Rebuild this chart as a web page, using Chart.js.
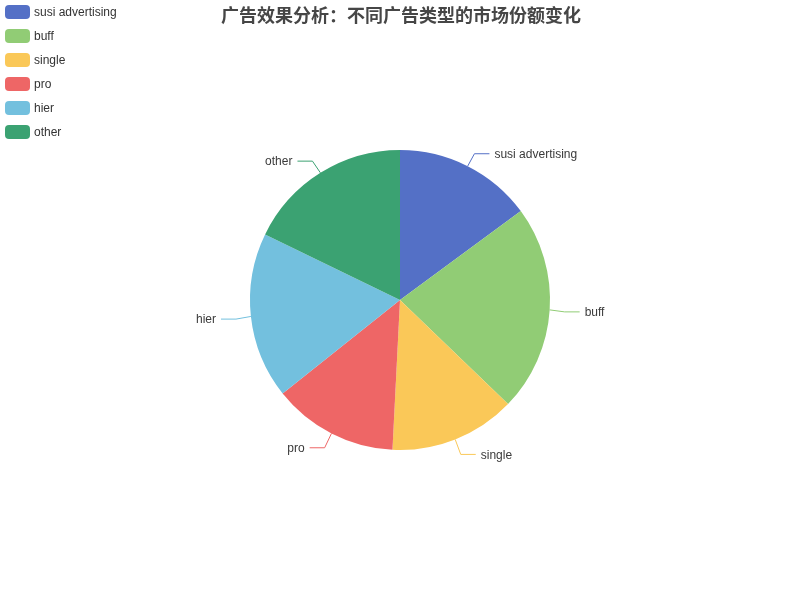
<!DOCTYPE html>
<html>
<head>
<meta charset="utf-8">
<script src="https://cdn.jsdelivr.net/npm/chart.js@4/dist/chart.umd.min.js"></script>
<style>
html,body{margin:0;padding:0;background:#fff;}
#c{display:block;}
</style>
</head>
<body>
<canvas id="c" width="800" height="600"></canvas>
<script>
const titleText = '广告效果分析：不同广告类型的市场份额变化';
const categories = ['susi advertising', 'buff', 'single', 'pro', 'hier', 'other'];
const shares = [14.9, 22.3, 13.6, 13.5, 17.9, 17.8];
const colors = ['#5470c6', '#91cc75', '#fac858', '#ee6666', '#73c0de', '#3ba272'];

const LATIN = '"Liberation Sans", Arial, sans-serif';

const decorPlugin = {
  id: 'decor',
  afterDatasetsDraw(chart) {
    const ctx = chart.ctx;
    const meta = chart.getDatasetMeta(0);
    ctx.save();
    // outside labels with leader lines
    meta.data.forEach((arc, i) => {
      const p = arc.getProps(['x', 'y', 'startAngle', 'endAngle', 'outerRadius'], true);
      const mid = (p.startAngle + p.endAngle) / 2;
      const cos = Math.cos(mid), sin = Math.sin(mid);
      const x1 = p.x + p.outerRadius * cos, y1 = p.y + p.outerRadius * sin;
      const x2 = p.x + (p.outerRadius + 15) * cos, y2 = p.y + (p.outerRadius + 15) * sin + 1;
      const dir = cos >= 0 ? 1 : -1;
      const x3 = x2 + dir * 15;
      ctx.strokeStyle = colors[i];
      ctx.lineWidth = 1;
      ctx.beginPath();
      ctx.moveTo(x1, y1);
      ctx.lineTo(x2, y2);
      ctx.lineTo(x3, y2);
      ctx.stroke();
      ctx.fillStyle = '#3a3a3a';
      ctx.font = '12px ' + LATIN;
      ctx.textBaseline = 'middle';
      ctx.textAlign = dir > 0 ? 'left' : 'right';
      ctx.fillText(chart.data.labels[i], x3 + dir * 5, y2 + 1);
    });
    // legend
    chart.data.labels.forEach((lab, i) => {
      const y = 5 + i * 24;
      ctx.fillStyle = colors[i];
      ctx.beginPath();
      ctx.roundRect(5, y, 25, 14, 4);
      ctx.fill();
      ctx.fillStyle = '#333';
      ctx.font = '12px ' + LATIN;
      ctx.textAlign = 'left';
      ctx.textBaseline = 'middle';
      ctx.fillText(lab, 34, y + 8);
    });
    // title
    ctx.fillStyle = '#464646';
    ctx.font = 'bold 18px "Noto Sans CJK SC", sans-serif';
    ctx.textAlign = 'center';
    ctx.textBaseline = 'middle';
    ctx.fillText(titleText, 401, 15);
    ctx.restore();
  }
};

new Chart(document.getElementById('c'), {
  type: 'pie',
  data: {
    labels: categories,
    datasets: [{
      data: shares,
      backgroundColor: colors,
      borderWidth: 0,
      hoverOffset: 0
    }]
  },
  options: {
    responsive: false,
    animation: false,
    devicePixelRatio: 1,
    layout: { padding: { top: 150, bottom: 150, left: 250, right: 250 } },
    plugins: {
      legend: { display: false },
      title: { display: false },
      tooltip: { enabled: false }
    }
  },
  plugins: [decorPlugin]
});
</script>
</body>
</html>
